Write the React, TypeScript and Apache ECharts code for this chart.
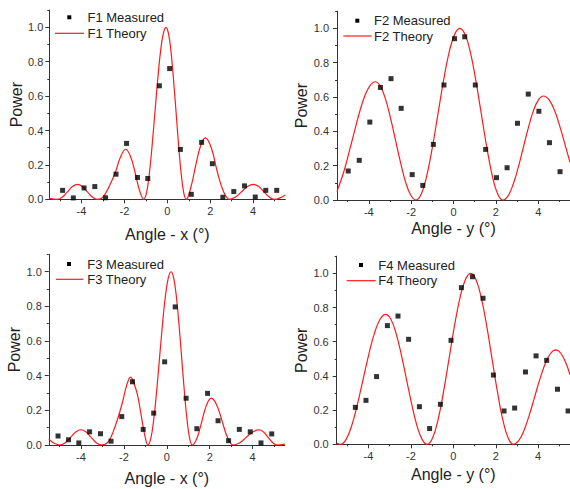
import React, { useEffect, useRef } from "react";
import * as echarts from "echarts";

const FONT = '"Liberation Sans", Arial, Helvetica, sans-serif';
const RED = "#ff1a1a";

// ---------- F1 ----------
const f1MeasX = [-4.88, -4.38, -3.88, -3.38, -2.88, -2.39, -1.9, -1.39, -0.91, -0.37, 0.11, 0.61, 1.12, 1.6, 2.1, 2.59, 3.1, 3.6, 4.1, 4.59, 5.1];
const f1MeasY = [0.052, 0.008, 0.066, 0.074, 0.009, 0.146, 0.325, 0.127, 0.121, 0.66, 0.76, 0.29, 0.029, 0.331, 0.207, 0.012, 0.045, 0.078, 0.013, 0.052, 0.052];
const f1Theory = [
  [-5.5, 0.005], [-5.12, 0], [-4.89, 0.013], [-4.655, 0.0435], [-4.42, 0.074], [-4.19, 0.087], [-3.96, 0.074], [-3.725, 0.0435], [-3.49, 0.013], [-3.26, 0],
  [-3.0, 0.012], [-2.69, 0.08], [-2.41, 0.16], [-2.2, 0.24], [-1.94, 0.291], [-1.7, 0.245], [-1.49, 0.15], [-1.29, 0.05], [-1.1, 0],
  [-0.97, 0.038], [-0.84, 0.146], [-0.71, 0.309], [-0.58, 0.5], [-0.45, 0.691], [-0.32, 0.854], [-0.19, 0.962], [-0.06, 1.0],
  [0.058, 0.962], [0.176, 0.854], [0.294, 0.691], [0.413, 0.5], [0.531, 0.309], [0.649, 0.146], [0.767, 0.038], [0.885, 0],
  [1.1, 0.07], [1.33, 0.2], [1.55, 0.31], [1.77, 0.357], [2.05, 0.3], [2.33, 0.16], [2.62, 0.045], [2.9, 0],
  [3.18, 0.013], [3.46, 0.0435], [3.74, 0.074], [4.02, 0.087], [4.265, 0.074], [4.51, 0.0435], [4.755, 0.013], [5.0, 0], [5.25, 0.008], [5.5, 0.025],
];

// ---------- F2 ----------
const f2MeasX = [-4.97, -4.45, -3.95, -3.45, -2.95, -2.47, -1.95, -1.45, -0.95, -0.45, 0.05, 0.53, 1.03, 1.52, 2.03, 2.53, 3.02, 3.53, 4.03, 4.53, 5.03];
const f2MeasY = [0.169, 0.231, 0.454, 0.656, 0.707, 0.534, 0.148, 0.085, 0.324, 0.67, 0.94, 0.951, 0.67, 0.295, 0.13, 0.188, 0.447, 0.617, 0.517, 0.334, 0.165];
const f2Theory = [
  [-5.5, 0.05], [-5.19, 0.16], [-4.94, 0.274], [-4.69, 0.393], [-4.44, 0.51], [-4.19, 0.606], [-3.94, 0.667], [-3.69, 0.689],
  [-3.45, 0.663], [-3.21, 0.588], [-2.97, 0.476], [-2.73, 0.345], [-2.49, 0.213], [-2.25, 0.1], [-2.01, 0.026], [-1.77, 0],
  [-1.511, 0.038], [-1.253, 0.146], [-0.994, 0.309], [-0.735, 0.5], [-0.476, 0.691], [-0.218, 0.854], [0.041, 0.962], [0.3, 1.0],
  [0.554, 0.962], [0.808, 0.854], [1.061, 0.691], [1.315, 0.5], [1.569, 0.309], [1.823, 0.146], [2.076, 0.038], [2.33, 0],
  [2.57, 0.023], [2.81, 0.089], [3.05, 0.187], [3.29, 0.303], [3.53, 0.419], [3.77, 0.519], [4.01, 0.583], [4.25, 0.606],
  [4.515, 0.583], [4.78, 0.519], [5.045, 0.419], [5.31, 0.303], [5.5, 0.22],
];

// ---------- F3 ----------
const f3MeasX = [-5.07, -4.58, -4.1, -3.6, -3.09, -2.6, -2.1, -1.6, -1.1, -0.61, -0.1, 0.39, 0.9, 1.4, 1.9, 2.39, 2.88, 3.38, 3.89, 4.39, 4.89];
const f3MeasY = [0.052, 0.03, 0.012, 0.076, 0.065, 0.022, 0.164, 0.365, 0.09, 0.184, 0.48, 0.797, 0.27, 0.094, 0.298, 0.14, 0.025, 0.09, 0.076, 0.012, 0.064];
const f3Theory = [
  [-5.5, 0.033], [-5.25, 0.01], [-4.98, 0], [-4.735, 0.013], [-4.49, 0.044], [-4.245, 0.075], [-4.0, 0.088], [-3.76, 0.075], [-3.525, 0.044], [-3.29, 0.013], [-3.05, 0],
  [-2.75, 0.015], [-2.43, 0.1], [-2.09, 0.235], [-1.88, 0.34], [-1.69, 0.392], [-1.5, 0.345], [-1.35, 0.28], [-1.11, 0.11], [-0.98, 0.03], [-0.88, 0],
  [-0.745, 0.038], [-0.61, 0.146], [-0.475, 0.309], [-0.34, 0.5], [-0.205, 0.691], [-0.07, 0.854], [0.065, 0.962], [0.2, 1.0],
  [0.324, 0.962], [0.448, 0.854], [0.571, 0.691], [0.695, 0.5], [0.819, 0.309], [0.943, 0.146], [1.066, 0.038], [1.19, 0],
  [1.41, 0.04], [1.63, 0.135], [1.85, 0.23], [2.07, 0.27], [2.33, 0.23], [2.585, 0.135], [2.84, 0.04], [3.1, 0],
  [3.4, 0.013], [3.7, 0.044], [4.0, 0.075], [4.3, 0.088], [4.51, 0.075], [4.725, 0.044], [4.94, 0.013], [5.15, 0], [5.5, 0.005],
];

// ---------- F4 ----------
const f4MeasX = [-4.62, -4.12, -3.62, -3.11, -2.61, -2.11, -1.6, -1.12, -0.61, -0.11, 0.38, 0.9, 1.4, 1.89, 2.39, 2.89, 3.4, 3.9, 4.4, 4.91, 5.41];
const f4MeasY = [0.216, 0.257, 0.396, 0.694, 0.75, 0.614, 0.22, 0.092, 0.234, 0.608, 0.916, 0.98, 0.854, 0.405, 0.195, 0.212, 0.423, 0.517, 0.491, 0.322, 0.195];
const f4Theory = [
  [-5.5, 0.008], [-5.32, 0], [-5.054, 0.029], [-4.788, 0.111], [-4.521, 0.235], [-4.255, 0.38], [-3.989, 0.525], [-3.723, 0.649], [-3.456, 0.731], [-3.19, 0.76],
  [-2.945, 0.731], [-2.7, 0.649], [-2.455, 0.525], [-2.21, 0.38], [-1.965, 0.235], [-1.72, 0.111], [-1.475, 0.029], [-1.23, 0],
  [-0.974, 0.038], [-0.718, 0.146], [-0.461, 0.309], [-0.205, 0.5], [0.051, 0.691], [0.308, 0.854], [0.564, 0.962], [0.82, 1.0],
  [1.071, 0.962], [1.323, 0.854], [1.574, 0.691], [1.825, 0.5], [2.076, 0.309], [2.328, 0.146], [2.579, 0.038], [2.83, 0],
  [3.08, 0.021], [3.33, 0.081], [3.58, 0.171], [3.83, 0.276], [4.08, 0.381], [4.33, 0.471], [4.58, 0.531], [4.83, 0.552],
  [5.075, 0.531], [5.32, 0.471], [5.5, 0.407],
];

// ---------- axes ----------
const xMajorTicks = [-4, -2, 0, 2, 4];
const xMinorTicks = [-5, -3, -1, 1, 3, 5];
const yMajorTicks = [0, 0.2, 0.4, 0.6, 0.8, 1.0];
const yMinorTicks = [0.1, 0.3, 0.5, 0.7, 0.9, 1.1];
const xMin = -5.5;
const xMax = 5.5;
const yMin = 0;
const yMax = 1.1;
const yAxisTitle = "Power";

const panels = [
  {
    label: "F1", measX: f1MeasX, measY: f1MeasY, theory: f1Theory, xName: "Angle - x (°)",
    grid: { left: 49.3, top: 10.1, width: 236, height: 189.2 }, xGap: 27, yGap: 24, yLabMargin: 6,
    leg: { sx: 69.3, sy: 17.3, tx: 87.5, lx1: 55, lx2: 84, ly: 33.3 },
  },
  {
    label: "F2", measX: f2MeasX, measY: f2MeasY, theory: f2Theory, xName: "Angle - y (°)",
    grid: { left: 337, top: 11.2, width: 234.5, height: 188.8 }, xGap: 20, yGap: 25, yLabMargin: 8,
    leg: { sx: 357.3, sy: 20.7, tx: 374, lx1: 343.3, lx2: 371.7, ly: 36 },
  },
  {
    label: "F3", measX: f3MeasX, measY: f3MeasY, theory: f3Theory, xName: "Angle - x (°)",
    grid: { left: 48.8, top: 254.4, width: 236, height: 190.6 }, xGap: 25, yGap: 26, yLabMargin: 7,
    leg: { sx: 69, sy: 264, tx: 87.3, lx1: 56, lx2: 83.3, ly: 279.3 },
  },
  {
    label: "F4", measX: f4MeasX, measY: f4MeasY, theory: f4Theory, xName: "Angle - y (°)",
    grid: { left: 336.7, top: 256.2, width: 233.5, height: 188.1 }, xGap: 22, yGap: 25, yLabMargin: 8,
    leg: { sx: 361, sy: 265, tx: 378.3, lx1: 346.7, lx2: 375.7, ly: 280.7 },
  },
];

function buildOption() {
  const grid: any[] = [];
  const xAxis: any[] = [];
  const yAxis: any[] = [];
  const series: any[] = [];
  const graphic: any[] = [];
  const axisColor = "#333";

  panels.forEach((p, i) => {
    grid.push({ ...p.grid, containLabel: false });
    xAxis.push({
      type: "value", gridIndex: i, min: xMin, max: xMax, position: "bottom",
      axisLine: { show: true, onZero: false, lineStyle: { color: axisColor, width: 1 } },
      axisTick: { show: true, inside: false, length: 4, customValues: xMajorTicks, lineStyle: { color: axisColor, width: 1 } },
      axisLabel: { show: true, customValues: xMajorTicks, margin: 6, fontSize: 11, color: "#333", fontFamily: FONT },
      splitLine: { show: false },
      name: p.xName, nameLocation: "middle", nameGap: p.xGap,
      nameTextStyle: { fontSize: 16, color: "#222", fontFamily: FONT },
    });
    xAxis.push({
      type: "value", gridIndex: i, min: xMin, max: xMax, position: "bottom",
      axisLine: { show: false, onZero: false },
      axisTick: { show: true, inside: false, length: 2, customValues: xMinorTicks, lineStyle: { color: axisColor, width: 1 } },
      axisLabel: { show: false },
      splitLine: { show: false },
    });
    yAxis.push({
      type: "value", gridIndex: i, min: yMin, max: yMax, position: "left",
      axisLine: { show: true, onZero: false, lineStyle: { color: axisColor, width: 1 } },
      axisTick: { show: true, inside: false, length: 4, customValues: yMajorTicks, lineStyle: { color: axisColor, width: 1 } },
      axisLabel: {
        show: true, customValues: yMajorTicks, margin: p.yLabMargin, fontSize: 11, color: "#333", fontFamily: FONT,
        formatter: (v: number) => v.toFixed(1),
      },
      splitLine: { show: false },
      name: yAxisTitle, nameLocation: "middle", nameGap: p.yGap,
      nameTextStyle: { fontSize: 16, color: "#222", fontFamily: FONT },
    });
    yAxis.push({
      type: "value", gridIndex: i, min: yMin, max: yMax, position: "left",
      axisLine: { show: false, onZero: false },
      axisTick: { show: true, inside: false, length: 2, customValues: yMinorTicks, lineStyle: { color: axisColor, width: 1 } },
      axisLabel: { show: false },
      splitLine: { show: false },
    });

    series.push({
      name: p.label + " Theory", type: "line", xAxisIndex: 2 * i, yAxisIndex: 2 * i,
      data: p.theory, symbol: "none", smooth: 0.4, clip: true,
      lineStyle: { color: RED, width: 1.2 }, z: 2,
    });
    series.push({
      name: p.label + " Measured", type: "scatter", xAxisIndex: 2 * i, yAxisIndex: 2 * i,
      data: p.measX.map((x, j) => [x, p.measY[j]]), symbol: "rect", symbolSize: 5,
      itemStyle: { color: "#000" }, z: 3,
    });

    const L = p.leg;
    graphic.push({ type: "rect", shape: { x: L.sx - 2, y: L.sy - 2, width: 4, height: 4 }, style: { fill: "#000" } });
    graphic.push({
      type: "text", x: L.tx, y: L.sy,
      style: { text: p.label + " Measured", fontSize: 13, fontFamily: FONT, fill: "#222", verticalAlign: "middle", align: "left" },
    });
    graphic.push({ type: "line", shape: { x1: L.lx1, y1: L.ly, x2: L.lx2, y2: L.ly }, style: { stroke: RED, lineWidth: 1.2 } });
    graphic.push({
      type: "text", x: L.tx, y: L.ly,
      style: { text: p.label + " Theory", fontSize: 13, fontFamily: FONT, fill: "#222", verticalAlign: "middle", align: "left" },
    });
  });

  return {
    animation: false,
    backgroundColor: "#fff",
    grid, xAxis, yAxis, series, graphic,
  };
}

export default function App() {
  const ref = useRef<HTMLDivElement>(null);
  useEffect(() => {
    if (!ref.current) return;
    const chart = echarts.init(ref.current, null, { renderer: "svg" });
    chart.setOption(buildOption() as any);
    return () => chart.dispose();
  }, []);
  return (
    <div
      ref={ref}
      style={{ position: "absolute", left: 0, top: 0, width: 570, height: 489, background: "#fff" }}
    />
  );
}
